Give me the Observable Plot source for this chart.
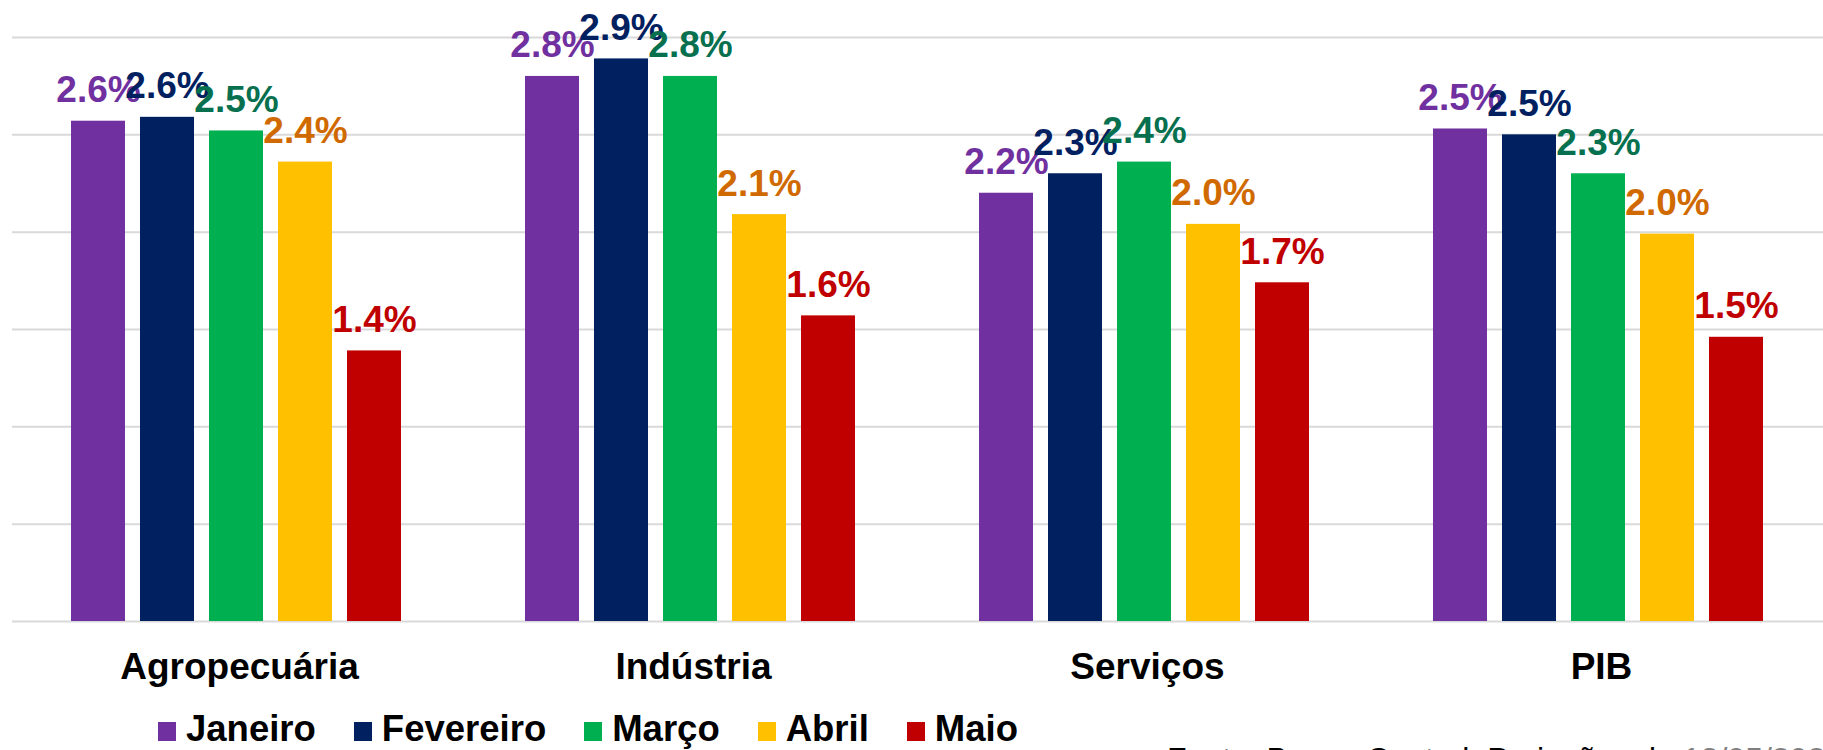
<!DOCTYPE html>
<html>
<head>
<meta charset="utf-8">
<script src="https://cdn.jsdelivr.net/npm/d3@7"></script>
<script src="https://cdn.jsdelivr.net/npm/@observablehq/plot@0.6"></script>
<style>
  html, body { margin: 0; padding: 0; width: 1823px; height: 750px; overflow: hidden; background: #fff; }
  #wrap { position: relative; width: 1823px; height: 750px; font-family: "Liberation Sans", Arial, sans-serif; }
  #chart svg { display: block; }
  #legend { position: absolute; left: 158px; top: 711px; display: flex; font-size: 36.5px; line-height: 36.5px; font-weight: bold; color: #000; white-space: nowrap; }
  #legend .item { display: inline-flex; align-items: baseline; margin-right: 38px; }
  #legend .sw { display: inline-block; width: 18px; height: 19px; margin-right: 10px; }
  #caption { position: absolute; left: 1167px; top: 743px; font-size: 32px; line-height: 32px; color: #000; white-space: nowrap; }
  #caption .date { color: #7f7f7f; }
</style>
</head>
<body>
<div id="wrap">
  <div id="chart"></div>
  <div id="legend"></div>
  <div id="caption">Fonte: Banco Central, Projeções de <span class="date">13/05/2024</span></div>
</div>
<script>
const groups = ["Agropecuária", "Indústria", "Serviços", "PIB"];
const months = ["Janeiro", "Fevereiro", "Março", "Abril", "Maio"];
const janeiro   = [2.57, 2.80, 2.20, 2.53];
const fevereiro = [2.59, 2.89, 2.30, 2.50];
const marco     = [2.52, 2.80, 2.36, 2.30];
const abril     = [2.36, 2.09, 2.04, 1.99];
const maio      = [1.39, 1.57, 1.74, 1.46];
const barColors   = ["#7030A0", "#002060", "#00B050", "#FFC000", "#C00000"];
const labelColors = ["#7030A0", "#002060", "#06704F", "#D06A00", "#C00000"];
const yTicks = [0, 0.5, 1, 1.5, 2, 2.5, 3];

const series = [janeiro, fevereiro, marco, abril, maio];
const data = [];
months.forEach((m, i) => groups.forEach((g, j) => data.push({group: g, month: m, value: series[i][j]})));

const labelMarks = months.map((m, i) =>
  Plot.text(data.filter(d => d.month === m), {
    fx: "group", x: "month", y: "value",
    text: d => d.value.toFixed(1) + "%",
    fill: labelColors[i], fontSize: 37, fontWeight: "bold",
    lineAnchor: "bottom", dy: -19
  })
);

const chart = Plot.plot({
  width: 1823,
  height: 700,
  marginTop: 37,
  marginBottom: 79,
  marginLeft: 11,
  marginRight: -5,
  style: {fontFamily: "'Liberation Sans', Arial, sans-serif", background: "#fff", color: "#000"},
  fx: {domain: groups, padding: 0, label: null},
  x: {domain: months, paddingInner: 0.214, paddingOuter: 0.852, align: 0.48, axis: null},
  y: {domain: [0, 3], axis: null},
  color: {domain: months, range: barColors},
  marks: [
    Plot.ruleY(yTicks, {stroke: "#d9d9d9", strokeWidth: 2}),
    Plot.barY(data, {fx: "group", x: "month", y: "value", fill: "month"}),
    ...labelMarks,
    Plot.axisFx({anchor: "bottom", tickSize: 0, tickPadding: 31, fontSize: 37, fontWeight: "bold", fill: "#000", label: null})
  ]
});
document.getElementById("chart").appendChild(chart);

const legend = document.getElementById("legend");
months.forEach((m, i) => {
  const item = document.createElement("span");
  item.className = "item";
  const sw = document.createElement("span");
  sw.className = "sw";
  sw.style.background = barColors[i];
  const t = document.createElement("span");
  t.textContent = m;
  item.appendChild(sw);
  item.appendChild(t);
  legend.appendChild(item);
});
</script>
</body>
</html>
